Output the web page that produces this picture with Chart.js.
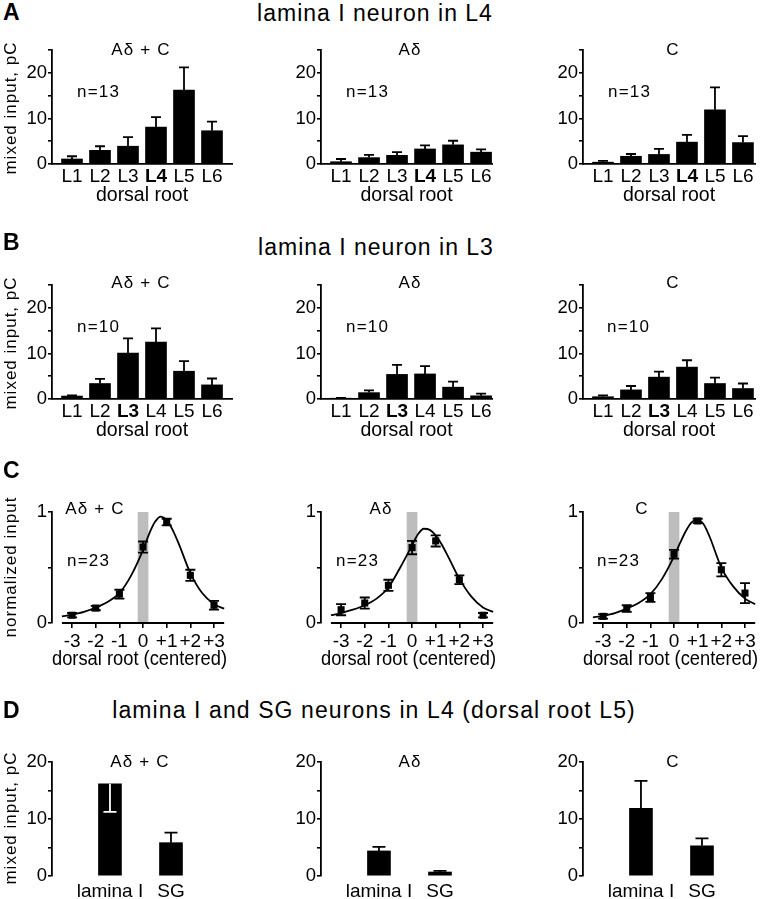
<!DOCTYPE html>
<html>
<head>
<meta charset="utf-8">
<script src="https://cdn.jsdelivr.net/npm/chart.js@4.4.1/dist/chart.umd.min.js"></script>
<style>
  html, body { margin: 0; padding: 0; background: #fff; }
  #fig { position: relative; width: 767px; height: 899px; overflow: hidden;
         font-family: "Liberation Sans", Arial, sans-serif; color: #000; }
  #fig canvas { position: absolute; }
  .t { position: absolute; white-space: nowrap; line-height: 1; }
</style>
</head>
<body>
<div id="fig"></div>
<script>
// ---- data (mean / SEM, mixed input in pC) ----
const roots = ['L1', 'L2', 'L3', 'L4', 'L5', 'L6'];
const rootPos = [1, 2, 3, 4, 5, 6];

// A: lamina I neuron in L4, n=13
const aMixMean   = [1.1, 3.0, 3.9, 8.1, 16.2, 7.3];
const aMixSem    = [0.6, 0.9, 2.0, 2.2, 5.0, 2.0];
const aDeltaMean = [0.5, 1.4, 1.9, 3.3, 4.2, 2.6];
const aDeltaSem  = [0.6, 0.6, 0.7, 0.8, 0.9, 0.6];
const aCMean     = [0.4, 1.7, 2.1, 4.8, 11.9, 4.7];
const aCSem      = [0.3, 0.5, 1.2, 1.6, 4.9, 1.4];

// B: lamina I neuron in L3, n=10
const bMixMean   = [0.65, 3.4, 10.1, 12.5, 6.1, 3.1];
const bMixSem    = [0.15, 1.0, 3.2, 3.0, 2.2, 1.4];
const bDeltaMean = [0.15, 1.4, 5.4, 5.5, 2.6, 0.7];
const bDeltaSem  = [0.1, 0.5, 2.1, 1.7, 1.2, 0.5];
const bCMean     = [0.5, 2.0, 4.8, 7.0, 3.4, 2.3];
const bCSem      = [0.3, 0.85, 1.2, 1.5, 1.3, 1.1];

// C: normalized input vs. centred dorsal root, n=23
const centred = [-3, -2, -1, 0, 1, 2, 3];
const centredLabels = ['-3', '-2', '-1', '0', '+1', '+2', '+3'];
const cMixNorm   = [0.07, 0.135, 0.26, 0.685, 0.91, 0.43, 0.16];
const cMixSem    = [0.02, 0.02, 0.04, 0.05, 0.03, 0.05, 0.04];
const cDeltaNorm = [0.12, 0.18, 0.34, 0.68, 0.74, 0.39, 0.07];
const cDeltaSem  = [0.05, 0.05, 0.05, 0.06, 0.05, 0.04, 0.02];
const cCNorm     = [0.06, 0.13, 0.23, 0.62, 0.92, 0.48, 0.27];
const cCSem      = [0.02, 0.03, 0.04, 0.04, 0.02, 0.06, 0.09];

// fitted curves
const fitX     = [-3.43, -3, -2.5, -2, -1.5, -1, -0.5, 0, 0.25, 0.5, 0.75, 1, 1.25, 1.5, 2, 2.5, 3, 3.43];
const cMixFit  = [0.06, 0.075, 0.10, 0.14, 0.19, 0.27, 0.43, 0.66, 0.80, 0.91, 0.96, 0.93, 0.84, 0.72, 0.45, 0.27, 0.17, 0.13];
const cDeltaFit = [0.07, 0.09, 0.12, 0.16, 0.22, 0.32, 0.50, 0.70, 0.80, 0.85, 0.84, 0.79, 0.71, 0.61, 0.40, 0.24, 0.14, 0.10];
const cCFit    = [0.05, 0.065, 0.09, 0.13, 0.18, 0.26, 0.40, 0.60, 0.72, 0.83, 0.91, 0.93, 0.89, 0.78, 0.50, 0.33, 0.22, 0.17];

// D: lamina I and SG neurons in L4, dorsal root L5
const groups = ['lamina I', 'SG'];
const groupPos = [1, 2];
const dMixMean   = [16.2, 5.85];
const dMixSem    = [-4.95, 1.75];   // negative: bar drawn downwards (white)
const dDeltaMean = [4.4, 0.7];
const dDeltaSem  = [0.7, 0.2];
const dCMean     = [11.9, 5.3];
const dCSem      = [4.8, 1.3];

// ---- setup ----
Chart.defaults.font.family = '"Liberation Sans", Arial, sans-serif';
Chart.defaults.color = '#000';

// error bars stored on the dataset as `sem`
Chart.register({
  id: 'semBars',
  afterDatasetsDraw(chart) {
    const ctx = chart.ctx, ys = chart.scales.y;
    chart.data.datasets.forEach((ds, di) => {
      if (!ds.sem) return;
      const meta = chart.getDatasetMeta(di);
      ctx.save();
      ctx.lineWidth = 1.8;
      meta.data.forEach((el, i) => {
        const e = ds.sem[i];
        if (!e) return;
        const v = ds.data[i].y, x = el.x, h = ds.capHalf;
        const both = ds.semMode === 'both';
        const yA = ys.getPixelForValue(both ? v - e : v);
        const yB = ys.getPixelForValue(v + e);
        ctx.strokeStyle = e < 0 ? '#fff' : '#000';
        ctx.beginPath();
        ctx.moveTo(x, yA); ctx.lineTo(x, yB);
        ctx.moveTo(x - h, yB); ctx.lineTo(x + h, yB);
        if (both) { ctx.moveTo(x - h, yA); ctx.lineTo(x + h, yA); }
        ctx.stroke();
      });
      ctx.restore();
    });
  }
});

// x axis line that does not touch the y axis (panel C)
Chart.register({
  id: 'axisLine',
  afterDraw(chart, args, o) {
    if (o.from === undefined) return;
    const xs = chart.scales.x, y = chart.chartArea.bottom;
    const ctx = chart.ctx;
    ctx.save();
    ctx.strokeStyle = '#000';
    ctx.lineWidth = 1.8;
    ctx.beginPath();
    ctx.moveTo(xs.getPixelForValue(o.from), y);
    ctx.lineTo(xs.getPixelForValue(o.to), y);
    ctx.stroke();
    ctx.restore();
  }
});

const fig = document.getElementById('fig');
const YW = 45, TP = 12, RP = 12;

function text(str, x, base, size, opt = {}) {
  const d = document.createElement('div');
  d.className = 't';
  d.textContent = str;
  d.style.fontSize = size + 'px';
  d.style.letterSpacing = (opt.ls ?? 1.2) + 'px';
  if (opt.bold) d.style.fontWeight = 'bold';
  d.style.left = x + 'px';
  d.style.top = (base - 0.8465 * size) + 'px';
  if (opt.center) d.style.transform = 'translateX(-50%)';
  fig.appendChild(d);
}

function vtext(str, cx, cy, size) {
  const d = document.createElement('div');
  d.className = 't';
  d.textContent = str;
  d.style.fontSize = size + 'px';
  d.style.letterSpacing = '1px';
  d.style.left = cx + 'px';
  d.style.top = cy + 'px';
  d.style.transform = 'translate(-50%, -50%) rotate(-90deg)';
  fig.appendChild(d);
}

function makeCanvas(area, xh) {
  const c = document.createElement('canvas');
  const w = Math.round(area.r - area.l) + YW + RP;
  const h = (area.b - area.t) + TP + xh;
  c.width = w; c.height = h;
  c.style.width = w + 'px'; c.style.height = h + 'px';
  c.style.left = (area.l - YW) + 'px';
  c.style.top = (area.t - TP) + 'px';
  fig.appendChild(c);
  return c;
}

function yScale(max, step, cb) {
  return {
    min: 0, max,
    afterFit: s => { s.width = YW; },
    grid: { drawOnChartArea: false, drawTicks: true, tickLength: 4, color: '#000', lineWidth: 1.6 },
    border: { display: true, color: '#000', width: 1.8 },
    ticks: { stepSize: step, padding: 1, autoSkip: false, font: { size: 18.5 }, callback: cb }
  };
}

function barChart(area, o) {
  const cv = makeCanvas(area, o.xh);
  return new Chart(cv, {
    type: 'bar',
    data: {
      datasets: [{
        data: o.pos.map((x, i) => ({ x, y: o.mean[i] })),
        backgroundColor: '#000',
        borderWidth: 0,
        barThickness: o.barW,
        sem: o.sem, semMode: 'up', capHalf: o.cap
      }]
    },
    options: {
      responsive: false, animation: false, events: [],
      layout: { padding: { top: TP, right: RP, left: 0, bottom: 0 } },
      plugins: { legend: { display: false }, tooltip: { enabled: false } },
      scales: {
        x: {
          type: 'linear', min: o.xmin, max: o.xmax, offset: false,
          afterBuildTicks: s => { s.ticks = o.pos.map(v => ({ value: v })); },
          afterFit: s => { s.height = o.xh; },
          grid: { display: false, drawTicks: false, offset: false },
          border: { display: o.xLine, color: '#000', width: 1.8 },
          ticks: {
            autoSkip: false, maxRotation: 0, padding: o.tickPad,
            callback: (v, i) => o.labels[i],
            font: c => ({ size: 19, weight: c.index === o.bold ? 'bold' : 'normal' })
          },
          title: o.xTitle
            ? { display: true, text: o.xTitle, font: { size: 19.5 }, padding: { top: 0, bottom: 1.1 } }
            : { display: false }
        },
        y: yScale(o.ymax, 5, v => (v % 10 === 0 ? String(v) : ''))
      }
    }
  });
}

function curveChart(area, pts, sem, fit) {
  const cv = makeCanvas(area, 50);
  return new Chart(cv, {
    type: 'line',
    data: {
      datasets: [
        {
          data: centred.map((x, i) => ({ x, y: pts[i] })),
          showLine: false, pointStyle: 'rect', pointRadius: 5,
          pointBackgroundColor: '#000', pointBorderWidth: 0, borderColor: '#000',
          sem, semMode: 'both', capHalf: 5, order: 1
        },
        {
          data: fitX.map((x, i) => ({ x, y: fit[i] })),
          pointRadius: 0, borderColor: '#000', borderWidth: 1.8,
          cubicInterpolationMode: 'monotone', fill: false, order: 2
        },
        {
          type: 'bar', data: [{ x: 0, y: 1 }],
          backgroundColor: '#bdbdbd', barThickness: 10, order: 3
        }
      ]
    },
    options: {
      responsive: false, animation: false, events: [],
      layout: { padding: { top: TP, right: RP, left: 0, bottom: 0 } },
      plugins: { legend: { display: false }, tooltip: { enabled: false }, axisLine: { from: -3.43, to: 3.43 } },
      scales: {
        x: {
          type: 'linear', min: -3.85, max: 3.55, offset: false,
          afterBuildTicks: s => { s.ticks = centred.map(v => ({ value: v })); },
          afterFit: s => { s.height = 50; },
          grid: { display: true, drawOnChartArea: false, drawTicks: true, tickLength: 5,
                  color: '#000', lineWidth: 1.6, offset: false },
          border: { display: false },
          ticks: { autoSkip: false, maxRotation: 0, padding: 2, font: { size: 19 },
                   callback: (v, i) => centredLabels[i] },
          title: { display: true, text: 'dorsal root (centered)', font: { size: 19.5 },
                   padding: { top: 0, bottom: 2.1 } }
        },
        y: yScale(1, 0.5, v => (v === 0 || v === 1 ? String(v) : ''))
      }
    }
  });
}

// ---- layout ----
const cols = [52, 321, 583];
const barRight = [232, 492, 755];
const barMax = [6.714, 6.39, 6.43];

function barRow(top, bottom, means, sems, bold) {
  means.forEach((m, k) => {
    barChart({ l: cols[k], r: barRight[k], t: top, b: bottom }, {
      pos: rootPos, labels: roots, mean: m, sem: sems[k], bold,
      xmin: 0.286, xmax: barMax[k], ymax: 25, xh: 44, xLine: true,
      tickPad: 1, barW: 21, cap: 5, xTitle: 'dorsal root'
    });
  });
}

barRow(50, 164, [aMixMean, aDeltaMean, aCMean], [aMixSem, aDeltaSem, aCSem], 3);
barRow(285, 399, [bMixMean, bDeltaMean, bCMean], [bMixSem, bDeltaSem, bCSem], 2);

[[cMixNorm, cMixSem, cMixFit], [cDeltaNorm, cDeltaSem, cDeltaFit], [cCNorm, cCSem, cCFit]]
  .forEach(([p, s, f], k) => {
    curveChart({ l: cols[k], r: cols[k] + 175, t: 512, b: 623 }, p, s, f);
  });

[[dMixMean, dMixSem], [dDeltaMean, dDeltaSem], [dCMean, dCSem]].forEach(([m, s], k) => {
  barChart({ l: cols[k], r: cols[k] + 180, t: 762, b: 876 }, {
    pos: groupPos, labels: groups, mean: m, sem: s,
    xmin: 0.05, xmax: 3.0, ymax: 20, xh: 24, xLine: false,
    tickPad: 4.6, barW: 23, cap: 6.5, xTitle: null
  });
});

// ---- texts ----
text('A', 3, 20, 23, { bold: true, ls: 0 });
text('B', 3, 250, 23, { bold: true, ls: 0 });
text('C', 3, 478, 23, { bold: true, ls: 0 });
text('D', 3, 718, 23, { bold: true, ls: 0 });

text('lamina I neuron in L4', 375, 21, 23, { center: true, ls: 1 });
text('lamina I neuron in L3', 376, 255, 23, { center: true, ls: 1 });
text('lamina I and SG neurons in L4 (dorsal root L5)', 374, 718, 23, { center: true, ls: 1.1 });

const subs = ['A\u03b4 + C', 'A\u03b4', 'C'];
[[141, 410, 673], [141, 410, 673], [95, 381, 642], [140, 410, 673]].forEach((xs, r) => {
  const base = [55, 288, 514, 767][r];
  xs.forEach((x, k) => text(subs[k], x, base, 17, { center: true }));
});

[[77, 346, 608], [77, 346, 607]].forEach((xs, r) => {
  xs.forEach(x => text(r === 0 ? 'n=13' : 'n=10', x, r === 0 ? 97 : 332, 17));
});
[67, 336, 597].forEach(x => text('n=23', x, 566, 17));

vtext('mixed input, pC', 9.5, 108, 17);
vtext('mixed input, pC', 9.5, 343, 17);
vtext('normalized input', 9.5, 567, 17);
vtext('mixed input, pC', 9.5, 818, 17);
</script>
</body>
</html>
